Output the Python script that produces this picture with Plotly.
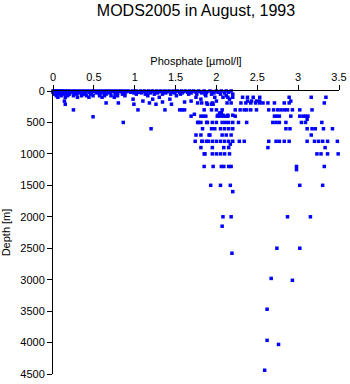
import plotly.graph_objects as go

# Phosphate concentration [umol/l] and sample depth [m], grouped by depth band
p_surface = [0.00, 0.02, 0.04, 0.06, 0.08, 0.10, 0.12, 0.15, 0.18, 0.21, 0.25, 0.28, 0.32, 0.36,
             0.40, 0.44, 0.48, 0.52, 0.56, 0.60, 0.64, 0.68, 0.72, 0.76, 0.80, 0.84, 0.88, 0.92,
             0.97, 1.02, 1.07, 1.12, 1.17, 1.22, 1.27, 1.32, 1.37, 1.42, 1.47, 1.52, 1.57, 1.62,
             1.67, 1.72, 1.78, 1.85, 1.92, 2.00, 2.06, 2.12, 2.18,
             0.01, 0.03, 0.05, 0.07, 0.09, 0.11, 0.14, 0.17, 0.20, 0.24, 0.30, 0.35, 0.42, 0.50,
             0.58, 0.66, 0.74, 0.83, 0.90, 1.00, 1.10, 1.20, 1.30, 1.40, 1.50, 1.60, 1.70, 1.80, 1.95,
             0.00, 0.02, 0.05, 0.08, 0.12, 0.16, 0.22, 0.27, 0.33, 0.38, 0.45, 0.55, 0.62, 0.70,
             0.78, 0.86, 0.95, 1.05, 1.15, 1.25, 1.35, 1.45, 1.55, 1.65, 1.75, 1.88, 2.02, 2.15,
             0.01, 0.04, 0.07, 0.10, 0.13, 0.19, 0.26, 0.31, 0.40, 0.47, 0.53, 0.61, 0.69, 0.79,
             0.88, 0.99, 1.08, 1.19, 1.28, 1.38, 1.49, 1.58, 1.69, 1.82, 1.97, 2.10,
             0.02, 0.05, 0.09, 0.14, 0.20, 0.29, 0.37, 0.46, 0.57, 0.65, 0.76, 0.85, 1.02, 1.13,
             1.24, 1.34, 1.44, 1.56, 1.66, 1.76, 1.86, 1.94, 2.05, 2.20]
d_surface = [0] * 51 + [10] * 29 + [20] * 28 + [30] * 26 + [50] * 24

p_upper = [0.04, 0.10, 0.18, 0.25, 0.35, 0.41, 0.49, 0.57, 0.63, 0.71, 0.79, 0.88, 1.16, 1.51,
           1.87, 2.12,
           0.06, 0.15, 0.30, 0.44, 0.60, 0.75, 1.30, 1.75, 1.98, 2.08, 2.14, 2.20, 2.32, 2.38,
           2.45, 2.53, 2.89, 3.16, 3.34,
           0.98, 1.22, 1.43, 1.81, 2.16, 1.10, 1.69, 2.00, 2.38, 2.43, 2.49, 2.53, 2.91, 0.14,
           1.34, 1.61, 0.65, 0.80, 1.77, 1.82, 1.88, 1.95, 2.13, 2.18, 2.30, 2.36, 2.42, 2.48,
           2.53, 2.57, 2.63, 2.71, 2.83, 2.89, 3.32, 1.18,
           0.15, 0.99, 1.26, 1.45, 1.89, 1.94, 1.96]
d_upper = ([75] * 16 + [100] * 19 + [130] * 5 + [160] * 9
           + [175] * 2 + [190] * 20 + [210] * 7)

p_thermo = [0.25, 1.04, 1.37, 1.55, 1.58, 1.61, 1.85, 1.94, 2.00, 2.07, 2.23, 2.29, 2.34,
            2.37, 2.42, 2.49, 2.64, 2.70, 2.75, 2.79, 2.83, 2.87, 2.93, 3.02, 3.17,
            2.06, 2.04, 1.73, 2.02, 2.08, 2.14, 2.20,
            1.69, 1.81, 1.84, 1.87, 2.01, 2.04, 2.08, 2.11, 2.14, 2.23, 2.71, 2.74, 2.77,
            2.91, 3.02, 3.06, 3.09, 3.12, 0.49, 3.11]
d_thermo = [300] * 25 + [345, 350, 370, 385, 385, 385, 385] + [400] * 18 + [410, 450]

p_inter = [0.86, 1.77, 1.78, 1.81, 1.88, 1.89, 1.95, 2.00, 2.07, 2.11, 2.15, 2.20, 2.27, 2.37,
           2.69, 2.73, 2.77, 2.85, 3.04, 3.09, 3.29,
           1.20, 1.83, 1.94, 1.98, 2.05, 2.10, 2.15, 2.20, 2.85, 2.90, 3.11, 3.17, 3.21, 3.31, 3.42,
           1.75, 1.81, 1.91, 1.92, 2.07, 2.12, 2.18, 3.16,
           1.74, 1.82, 1.83, 1.88, 1.90, 1.95, 2.00, 2.05, 2.10, 2.15, 2.20, 2.28, 2.34, 2.64,
           2.73, 2.77, 2.83, 2.89, 3.11, 3.20, 3.25, 3.30, 3.36, 3.48, 2.17,
           1.81, 1.95, 2.09, 2.15, 2.63, 3.33,
           1.85, 1.86, 1.95, 2.00, 2.05, 2.10, 2.16, 3.23, 3.28, 3.36, 3.49]
d_inter = [500] * 21 + [600] * 15 + [700] * 8 + [800] * 24 + [845] + [900] * 6 + [1000] * 11

p_deep = [1.85, 1.96, 2.06, 2.09, 2.15, 2.18, 2.98, 3.32, 2.98,
          1.93, 2.05, 2.17, 3.02, 3.30, 2.20,
          2.08, 2.18, 2.87, 3.15, 2.07,
          2.74, 3.02, 2.19, 2.67, 2.93, 2.62, 2.62, 2.76, 2.59]
d_deep = [1200] * 8 + [1250] + [1500] * 5 + [1600] + [2000] * 4 + [2150] + [2500, 2500, 2580,
          2980, 3010, 3470, 3965, 4030, 4440]

phosphate = p_surface + p_upper + p_thermo + p_inter + p_deep
depth = d_surface + d_upper + d_thermo + d_inter + d_deep

x_ticks = [0, 0.5, 1, 1.5, 2, 2.5, 3, 3.5]
x_tick_text = ["0", "0.5", "1", "1.5", "2", "2.5", "3", "3.5"]
y_ticks = [0, 500, 1000, 1500, 2000, 2500, 3000, 3500, 4000, 4500]

font_family = "Liberation Sans, Arial, sans-serif"

fig = go.Figure(
    go.Scatter(
        x=phosphate,
        y=depth,
        mode="markers",
        marker=dict(symbol="square", size=3.5, color="#0000ff", line=dict(width=0)),
        cliponaxis=False,
        hoverinfo="x+y",
    )
)

fig.update_layout(
    width=350,
    height=384,
    margin=dict(l=53, r=11, t=91, b=10, autoexpand=False),
    paper_bgcolor="white",
    plot_bgcolor="white",
    showlegend=False,
    font=dict(family=font_family, color="black", size=11),
    title=dict(
        text="MODS2005 in August, 1993",
        x=(53 + 339) / 2 / 350,
        xanchor="center",
        y=1 - 10 / 384,
        yanchor="middle",
        font=dict(size=16, family=font_family, color="black"),
    ),
    xaxis=dict(
        side="top",
        range=[0, 3.5],
        tickvals=x_ticks,
        ticktext=x_tick_text,
        ticks="outside",
        ticklen=5,
        tickcolor="black",
        showline=True,
        linecolor="black",
        linewidth=1,
        showgrid=False,
        zeroline=False,
        automargin=False,
        tickfont=dict(size=11),
        title=dict(text="Phosphate [µmol/l]", font=dict(size=11), standoff=2),
    ),
    yaxis=dict(
        range=[4500, 0],
        tickvals=y_ticks,
        ticks="outside",
        ticklen=5,
        tickcolor="black",
        showline=True,
        linecolor="black",
        linewidth=1,
        showgrid=False,
        zeroline=False,
        automargin=False,
        tickfont=dict(size=11),
        title=dict(text="Depth [m]", font=dict(size=11), standoff=8),
    ),
)

fig.write_html("out.html")
